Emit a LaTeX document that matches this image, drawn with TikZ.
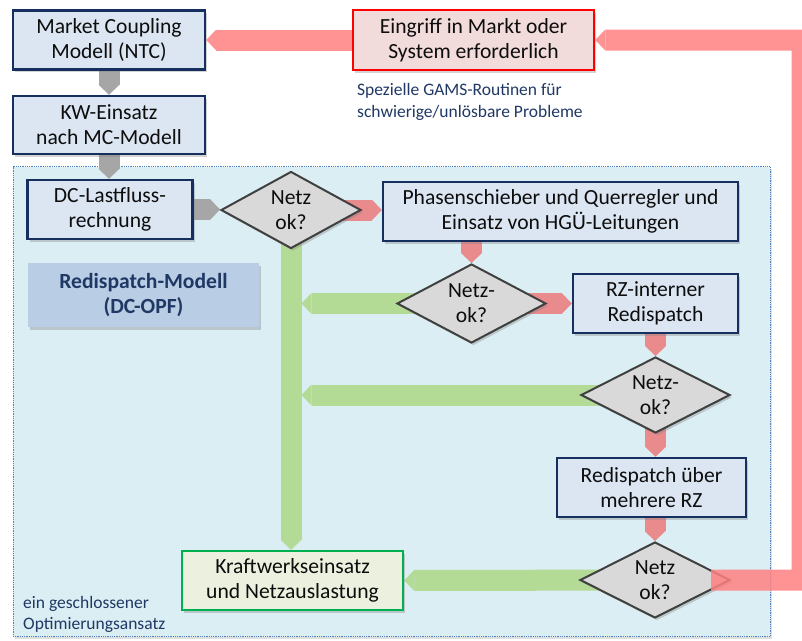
\documentclass[tikz,border=0pt]{standalone}
\usepackage{fontspec}
\setmainfont{Carlito}
\usetikzlibrary{shapes.geometric,arrows.meta,shadows,calc}

\pgfdeclarelayer{back}
\pgfdeclarelayer{links}
\pgfsetlayers{back,links,main}

\definecolor{boxfill}{HTML}{DCE6F2}
\definecolor{boxline}{HTML}{172F5F}
\definecolor{nodegray}{HTML}{D9D9D9}
\definecolor{nodeline}{HTML}{404040}
\definecolor{flowgray}{HTML}{A6A6A6}
\definecolor{flowred}{HTML}{E98A8C}
\definecolor{loopred}{HTML}{FF8080}
\definecolor{flowgreen}{HTML}{B3DB95}
\definecolor{regionfill}{HTML}{DAEEF3}
\definecolor{regionline}{HTML}{4F81BD}
\definecolor{notetext}{HTML}{1F3864}
\definecolor{modelfill}{HTML}{B9CDE5}
\definecolor{alertfill}{HTML}{F2DCDB}
\definecolor{okfill}{HTML}{EBF1DE}
\definecolor{okline}{HTML}{00B050}

\newcommand\flowfont{\fontsize{21.6pt}{25pt}\selectfont}
\newcommand\notefont{\fontsize{17.5pt}{21.5pt}\selectfont}

\begin{document}
\begin{tikzpicture}[x=1pt, y=-1pt,
  flowbox/.style = {draw=boxline, line width=2.5pt, fill=boxfill, align=center,
    font=\flowfont, text=black!95, inner sep=0pt,
    drop shadow={shadow xshift=2pt, shadow yshift=-2.5pt, opacity=0.35}},
  decision/.style = {diamond, draw=nodeline, line width=2pt, fill=nodegray,
    align=center, font=\flowfont, text=black!95, inner sep=0pt, shape aspect=1.85,
    drop shadow={shadow xshift=2pt, shadow yshift=-2.5pt, opacity=0.35}},
  flowlink/.style = {line width=21pt,
    -{Triangle[length=10pt, width=21pt, line width=0pt]}},
  graylink/.style = {flowlink, draw=flowgray},
  redlink/.style = {flowlink, draw=flowred},
  greenlink/.style = {flowlink, draw=flowgreen},
  looplink/.style = {flowlink, draw=loopred, line join=miter},
  note/.style = {font=\notefont, text=notetext, align=left, anchor=west, inner sep=0pt}
]
  \useasboundingbox (0,0) rectangle (802,640);

  % Optimierungsbereich
  \begin{pgfonlayer}{back}
    \node[draw=regionline, densely dotted, line width=0.8pt, fill=regionfill,
      minimum width=757pt, minimum height=470pt, inner sep=0pt,
      drop shadow={shadow xshift=2pt, shadow yshift=-2pt, opacity=0.25}]
      (region) at (391.5,401.5) {};
  \end{pgfonlayer}

  % Kaesten
  \node[flowbox, minimum width=192pt, minimum height=59pt] (mc) at (109,40)
    {Market Coupling\\Modell (NTC)};
  \node[flowbox, minimum width=192pt, minimum height=58pt] (kw) at (109,125)
    {KW-Einsatz\\nach MC-Modell};
  \node[flowbox, minimum width=165pt, minimum height=59pt] (dc) at (110,209.5)
    {DC-Lastfluss-\\rechnung};
  \node[flowbox, minimum width=355pt, minimum height=59pt] (phase) at (560.5,211.5)
    {Phasenschieber und Querregler und\\Einsatz von HGÜ-Leitungen};
  \node[flowbox, minimum width=165pt, minimum height=59pt] (rzint) at (655.5,303.5)
    {RZ-interner\\Redispatch};
  \node[flowbox, minimum width=189pt, minimum height=59pt] (rdmulti) at (651.5,487.5)
    {Redispatch über\\mehrere RZ};
  \node[flowbox, draw=okline, fill=okfill, minimum width=221pt, minimum height=59pt]
    (kwe) at (292.5,580.5) {Kraftwerkseinsatz\\und Netzauslastung};
  \node[flowbox, draw=red, fill=alertfill, minimum width=241pt, minimum height=60pt]
    (eingriff) at (473.5,40) {Eingriff in Markt oder\\System erforderlich};
  \node[flowbox, draw=none, fill=modelfill, text=notetext, font=\flowfont\bfseries,
    minimum width=231pt, minimum height=64pt] (rdmodell) at (143.5,295)
    {Redispatch-Modell\\(DC-OPF)};

  % Netz ok?
  \node[decision, minimum width=140pt, minimum height=77pt] (netzA) at (291,210)
    {Netz\\ok?};
  \node[decision, minimum width=149pt, minimum height=79pt] (netzB) at (471.5,303.5)
    {Netz-\\ok?};
  \node[decision, minimum width=149pt, minimum height=76pt] (netzC) at (655.5,395)
    {Netz-\\ok?};
  \node[decision, minimum width=150pt, minimum height=76pt] (netzD) at (655,580)
    {Netz\\ok?};

  % Hinweise
  \node[note] (gams) at (357,102)
    {Spezielle GAMS-Routinen für\\schwierige/unlösbare Probleme};
  \node[note] (optnote) at (23,614.5)
    {ein geschlossener\\Optimierungsansatz};

  % Verbindungen
  \begin{pgfonlayer}{links}
    \draw[graylink] (mc.south) -- (kw.north);
    \draw[graylink] (kw.south) -- (kw.south |- dc.north);
    \draw[graylink] (dc.east) -- (dc.east -| netzA.west);
    \draw[redlink] (netzA.center) -- (netzA.center -| phase.west);
    \draw[redlink] (netzB.north |- phase.south) -- (netzB.north);
    \draw[redlink] (netzB.center) -- (rzint.west);
    \draw[redlink] (rzint.south) -- (netzC.north);
    \draw[redlink] (netzC.center) -- (netzC.center |- rdmulti.north);
    \draw[redlink] (rdmulti.south -| netzD.north) -- (netzD.north);
    \draw[greenlink] (netzA.center) -- (netzA.center |- kwe.north);
    \draw[greenlink] (netzB.center) -- ($(netzA.center |- netzB.center)+(10.5,0)$);
    \draw[greenlink] (netzC.center) -- ($(netzA.center |- netzC.center)+(10.5,0)$);
    \draw[greenlink] (netzD.center) -- (kwe.east);
  \end{pgfonlayer}

  % Rueckfuehrung
  \coordinate (loopright) at (802,0);
  \begin{scope}[transparency group, opacity=0.85]
    \draw[looplink] ($(netzD.east)+(-20,0)$) -- (netzD.east -| loopright)
      -- (eingriff.east -| loopright) -- (eingriff.east);
  \end{scope}
  \draw[looplink, draw=loopred!85!white] (eingriff.west) -- (mc.east);
\end{tikzpicture}
\end{document}
